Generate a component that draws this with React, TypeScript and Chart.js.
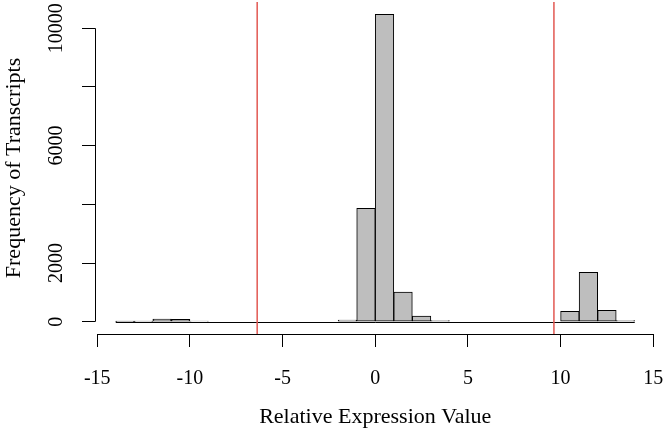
import React, { useEffect, useRef } from "react";
import { Chart, registerables } from "chart.js";

Chart.register(...registerables);

// Histogram bins (left edges, width 1) and counts
const binStarts = [
  -14, -13, -12, -11, -10, -9, -8, -7, -6, -5, -4, -3, -2, -1,
  0, 1, 2, 3, 4, 5, 6, 7, 8, 9, 10, 11, 12, 13,
];
const counts = [
  2, 8, 90, 85, 15, 0, 0, 0, 0, 0, 0, 0, 55, 3865,
  10475, 1012, 194, 35, 0, 0, 0, 0, 0, 0, 352, 1683, 386, 40,
];
const xTicks = [-15, -10, -5, 0, 5, 10, 15];
const yTicks = [0, 2000, 4000, 6000, 8000, 10000];
const yTickLabels = ["0", "2000", "", "6000", "", "10000"];
const cutoffs = [-6.37, 9.64];
const binWidth = 1;

const FONT = "'Liberation Serif', 'Times New Roman', serif";

export default function App() {
  const ref = useRef<HTMLCanvasElement | null>(null);

  useEffect(() => {
    document.body.style.margin = "0";
    const canvas = ref.current;
    if (!canvas) return;

    const rPlugin = {
      id: "rStyle",
      afterDatasetsDraw(chart: any) {
        const { ctx, chartArea } = chart;
        const xs = chart.scales.x;
        const ys = chart.scales.y;
        ctx.save();
        // baseline of histogram (zero-height bins)
        ctx.strokeStyle = "#000";
        ctx.lineWidth = 1;
        const y0 = Math.round(ys.getPixelForValue(0)) + 0.5;
        ctx.beginPath();
        ctx.moveTo(xs.getPixelForValue(binStarts[0]), y0);
        ctx.lineTo(xs.getPixelForValue(binStarts[binStarts.length - 1] + binWidth), y0);
        ctx.stroke();
        // x axis line
        const xb = Math.round(chartArea.bottom) + 0.5;
        ctx.beginPath();
        ctx.moveTo(xs.getPixelForValue(xTicks[0]), xb);
        ctx.lineTo(xs.getPixelForValue(xTicks[xTicks.length - 1]), xb);
        ctx.stroke();
        // y axis line
        const yl = Math.round(chartArea.left) + 0.5;
        ctx.beginPath();
        ctx.moveTo(yl, ys.getPixelForValue(yTicks[0]));
        ctx.lineTo(yl, ys.getPixelForValue(yTicks[yTicks.length - 1]));
        ctx.stroke();
        // cutoff lines
        ctx.strokeStyle = "rgb(226,88,82)";
        ctx.lineWidth = 1.5;
        cutoffs.forEach((c) => {
          const px = xs.getPixelForValue(c);
          ctx.beginPath();
          ctx.moveTo(px, chartArea.top);
          ctx.lineTo(px, chartArea.bottom);
          ctx.stroke();
        });
        ctx.restore();
      },
    };

    const chart = new Chart(canvas, {
      type: "bar",
      data: {
        datasets: [
          {
            data: binStarts.map((b, i) => ({ x: b + binWidth / 2, y: counts[i] })),
            backgroundColor: "#bebebe",
            borderColor: "#000",
            borderWidth: 1,
            borderSkipped: false,
            barPercentage: 1,
            categoryPercentage: 1,
          },
        ],
      },
      options: {
        animation: false,
        responsive: false,
        maintainAspectRatio: false,
        layout: { padding: { top: 2, right: 11.5, left: 0, bottom: 0 } },
        plugins: {
          legend: { display: false },
          tooltip: { enabled: false },
        },
        scales: {
          x: {
            type: "linear",
            min: -15.12,
            max: 15.12,
            offset: false,
            afterBuildTicks: (s: any) => {
              s.ticks = xTicks.map((v) => ({ value: v }));
            },
            afterFit: (s: any) => {
              s.height = 97;
              s.paddingLeft = 0;
              s.paddingRight = 0;
            },
            border: { display: false },
            grid: {
              display: true,
              offset: false,
              drawOnChartArea: false,
              drawTicks: true,
              tickLength: 13,
              color: "#000",
              lineWidth: 1,
            },
            ticks: {
              autoSkip: false,
              maxRotation: 0,
              minRotation: 0,
              padding: 20,
              color: "#000",
              font: { family: FONT, size: 20 },
              callback: (v: any) => String(v),
            },
            title: {
              display: true,
              text: "Relative Expression Value",
              color: "#000",
              font: { family: FONT, size: 22 },
              padding: { top: 0, bottom: 1 },
            },
          },
          y: {
            type: "linear",
            min: -419,
            max: 10894,
            afterBuildTicks: (s: any) => {
              s.ticks = yTicks.map((v) => ({ value: v }));
            },
            afterFit: (s: any) => {
              s.width = 95;
              s.paddingTop = 0;
              s.paddingBottom = 0;
            },
            border: { display: false },
            grid: {
              display: true,
              offset: false,
              drawOnChartArea: false,
              drawTicks: true,
              tickLength: 13,
              color: "#000",
              lineWidth: 1,
            },
            ticks: {
              autoSkip: false,
              minRotation: 90,
              maxRotation: 90,
              crossAlign: "center",
              padding: 0,
              color: "#000",
              font: { family: FONT, size: 20 },
              callback: (_v: any, i: number) => yTickLabels[i],
            },
            title: {
              display: true,
              text: "Frequency of Transcripts",
              color: "#000",
              font: { family: FONT, size: 22 },
              padding: { top: 1, bottom: 0 },
            },
          },
        },
      },
      plugins: [rPlugin],
    });

    return () => chart.destroy();
  }, []);

  return (
    <div style={{ width: 667, height: 431 }}>
      <canvas ref={ref} width={667} height={431} style={{ display: "block" }} />
    </div>
  );
}
